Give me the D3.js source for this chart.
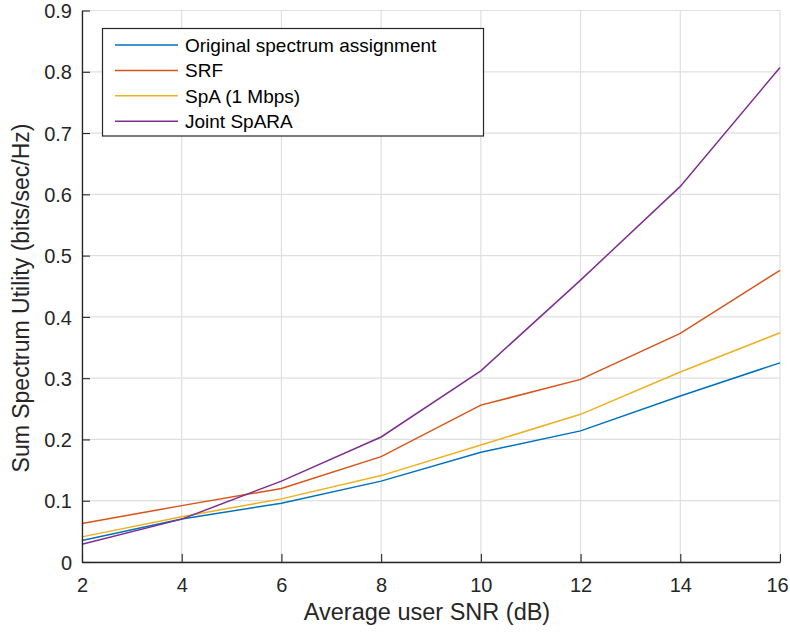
<!DOCTYPE html>
<html><head><meta charset="utf-8">
<script src="https://cdn.jsdelivr.net/npm/d3@7"></script>
<style>body{margin:0;background:#fff}svg{display:block}</style>
</head><body>
<svg id="c" width="790" height="633"></svg>
<script>
const snr = [2, 4, 6, 8, 10, 12, 14, 16];
const original = [0.035, 0.070, 0.096, 0.132, 0.179, 0.214, 0.271, 0.325];
const srf = [0.063, 0.092, 0.120, 0.172, 0.256, 0.298, 0.373, 0.476];
const spa = [0.041, 0.074, 0.103, 0.141, 0.191, 0.241, 0.310, 0.374];
const joint = [0.029, 0.070, 0.132, 0.204, 0.312, 0.460, 0.613, 0.807];
const seriesNames = ["Original spectrum assignment", "SRF", "SpA (1 Mbps)", "Joint SpARA"];
const colors = ["#0072BD", "#D95319", "#EDB120", "#7E2F8E"];
const xTicks = [2, 4, 6, 8, 10, 12, 14, 16];
const yTicks = [0, 0.1, 0.2, 0.3, 0.4, 0.5, 0.6, 0.7, 0.8, 0.9];
const allSeries = [original, srf, spa, joint];

const svg = d3.select("#c");
const L = 82, R = 780, T = 10.5, B = 562;
const x = d3.scaleLinear().domain([2, 16]).range([L, R]);
const y = d3.scaleLinear().domain([0, 0.9]).range([B, T]);
const font = "'Liberation Sans', Arial, Helvetica, sans-serif";
const axisCol = "#262626";

// grid
const g = svg.append("g");
g.selectAll(".gx").data(xTicks).enter().append("line")
  .attr("x1", d => x(d)).attr("x2", d => x(d)).attr("y1", T).attr("y2", B)
  .attr("stroke", "#dfdfdf").attr("stroke-width", 1.2);
g.selectAll(".gy").data(yTicks).enter().append("line")
  .attr("y1", d => y(d)).attr("y2", d => y(d)).attr("x1", L).attr("x2", R)
  .attr("stroke", "#dfdfdf").attr("stroke-width", 1.2);

// lines
const line = d3.line().x((d, i) => x(snr[i])).y(d => y(d));
allSeries.forEach((s, k) => {
  svg.append("path").datum(s).attr("d", line).attr("fill", "none")
    .attr("stroke", colors[k]).attr("stroke-width", 1.5);
});

// axes
const xAxis = d3.axisBottom(x).tickValues(xTicks).tickSizeInner(-8).tickSizeOuter(0).tickFormat(d3.format("d"));
const yAxis = d3.axisLeft(y).tickValues(yTicks).tickSizeInner(-8).tickSizeOuter(0).tickFormat(d => d === 0 ? "0" : d3.format(".1f")(d));
const gx = svg.append("g").attr("transform", `translate(0,${B})`).call(xAxis);
const gy = svg.append("g").attr("transform", `translate(${L},0)`).call(yAxis);
[gx, gy].forEach(a => {
  a.select(".domain").attr("stroke", axisCol).attr("stroke-width", 1.3);
  a.selectAll(".tick line").attr("stroke", axisCol).attr("stroke-width", 1.1);
  a.selectAll("text").attr("fill", axisCol).style("font-family", font).style("font-size", "20px");
});
gx.selectAll("text").attr("y", 30).attr("dy", 0)
  .attr("x", d => d === xTicks[xTicks.length - 1] ? -3 : 0);
gy.selectAll("text").attr("x", -10).attr("dy", "0.36em");

// axis labels
svg.append("text").attr("x", 427).attr("y", 620).attr("text-anchor", "middle")
  .attr("fill", axisCol).style("font-family", font).style("font-size", "23.5px")
  .text("Average user SNR (dB)");
svg.append("text").attr("transform", `translate(29,298) rotate(-90)`).attr("text-anchor", "middle")
  .attr("fill", axisCol).style("font-family", font).style("font-size", "23px")
  .text("Sum Spectrum Utility (bits/sec/Hz)");

// legend
const lg = svg.append("g");
lg.append("rect").attr("x", 102.5).attr("y", 28.5).attr("width", 381).attr("height", 107.5)
  .attr("fill", "#fff").attr("stroke", axisCol).attr("stroke-width", 1.2);
seriesNames.forEach((n, k) => {
  const yy = 45 + k * 25.4;
  lg.append("line").attr("x1", 115).attr("x2", 178).attr("y1", yy).attr("y2", yy)
    .attr("stroke", colors[k]).attr("stroke-width", 1.5);
  lg.append("text").attr("x", 185).attr("y", yy).attr("dy", "0.36em")
    .attr("fill", "#000").style("font-family", font).style("font-size", "19px").text(n);
});
</script>
</body></html>
